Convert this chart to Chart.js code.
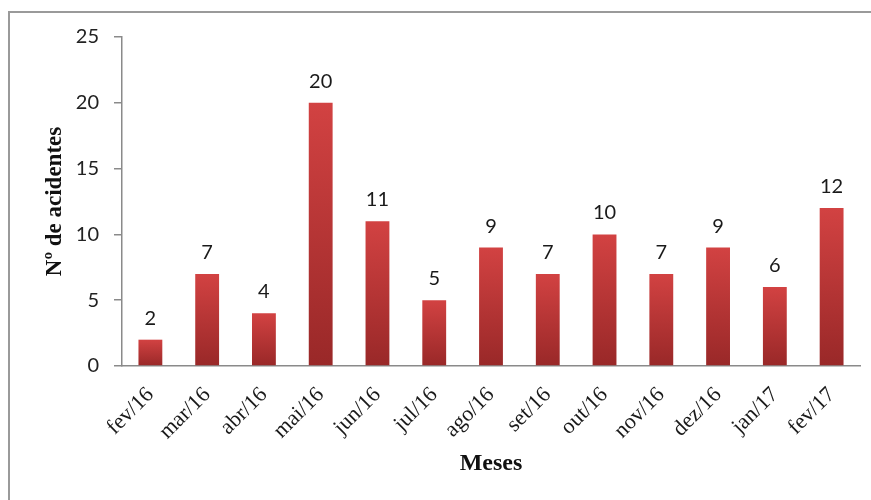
<!DOCTYPE html>
<html>
<head>
<meta charset="utf-8">
<script src="https://cdn.jsdelivr.net/npm/chart.js@4.4.0/dist/chart.umd.min.js"></script>
<style>
  html, body { margin: 0; padding: 0; background: #fff; overflow: hidden; }
  #frame { position: absolute; left: 8px; top: 11px; width: 900px; height: 600px; border: 2px solid #9a9a9a; }
  #wrap { position: absolute; left: 0; top: 0; width: 871px; height: 500px; }
</style>
</head>
<body>
<div id="frame"></div>
<div id="wrap"><canvas id="acidentesChart"></canvas></div>
<script>
const meses = ['fev/16', 'mar/16', 'abr/16', 'mai/16', 'jun/16', 'jul/16', 'ago/16', 'set/16', 'out/16', 'nov/16', 'dez/16', 'jan/17', 'fev/17'];
const acidentes = [2, 7, 4, 20, 11, 5, 9, 7, 10, 7, 9, 6, 12];
const yMin = 0;
const yMax = 25;
const yStep = 5;

const serif = "'Liberation Serif', 'Times New Roman', serif";
const sans = "Lato, 'Open Sans', sans-serif";

// red gradient on each bar, lighter at the top
function barGradient(context) {
    const chart = context.chart;
    const yScale = chart.scales.y;
    if (!chart.chartArea || !yScale) return '#b83232';
    const top = yScale.getPixelForValue(context.raw);
    const base = yScale.getPixelForValue(0);
    const g = chart.ctx.createLinearGradient(0, top, 0, base);
    g.addColorStop(0, '#d24242');
    g.addColorStop(1, '#992828');
    return g;
}

// value labels above the bars
const etiquetas = {
    id: 'etiquetas',
    afterDatasetsDraw(chart) {
        const ctx = chart.ctx;
        const meta = chart.getDatasetMeta(0);
        ctx.save();
        ctx.font = '20px ' + sans;
        ctx.fillStyle = '#1a1a1a';
        ctx.textAlign = 'center';
        ctx.textBaseline = 'alphabetic';
        meta.data.forEach((bar, i) => {
            ctx.fillText(String(acidentes[i]), bar.x, bar.y - 15);
        });
        ctx.restore();
    }
};

const config = {
    type: 'bar',
    data: {
        labels: meses,
        datasets: [{
            label: 'Nº de acidentes',
            data: acidentes,
            backgroundColor: barGradient,
            borderWidth: 0,
            categoryPercentage: 1.0,
            barPercentage: 0.42
        }]
    },
    options: {
        responsive: true,
        maintainAspectRatio: false,
        animation: false,
        layout: { padding: { left: 0, top: 37, right: 11, bottom: 0 } },
        plugins: {
            legend: { display: false },
            tooltip: { enabled: false }
        },
        scales: {
            x: {
                grid: { display: true, drawOnChartArea: false, drawTicks: false },
                border: { display: true, color: '#8a8a8a', width: 1.5 },
                ticks: {
                    font: { family: serif, size: 22 },
                    color: '#1a1a1a',
                    minRotation: 45,
                    maxRotation: 45,
                    autoSkip: false,
                    padding: 16
                },
                title: {
                    display: true,
                    text: 'Meses',
                    font: { family: serif, size: 24, weight: 'bold' },
                    color: '#111',
                    padding: { top: 0, bottom: 22 }
                },
                afterFit(scale) { scale.height = 134; }
            },
            y: {
                min: yMin,
                max: yMax,
                ticks: {
                    stepSize: yStep,
                    font: { family: sans, size: 20 },
                    color: '#222',
                    padding: 15
                },
                grid: { drawOnChartArea: false, drawTicks: true, tickLength: 8, color: '#8a8a8a', lineWidth: 1.5 },
                border: { display: true, color: '#8a8a8a', width: 1.5 },
                title: {
                    display: true,
                    text: 'Nº de acidentes',
                    font: { family: serif, size: 23, weight: 'bold' },
                    color: '#111',
                    padding: { top: 41, bottom: 0 }
                },
                afterFit(scale) { scale.width = 122; }
            }
        }
    },
    plugins: [etiquetas]
};

new Chart(document.getElementById('acidentesChart'), config);
</script>
</body>
</html>
